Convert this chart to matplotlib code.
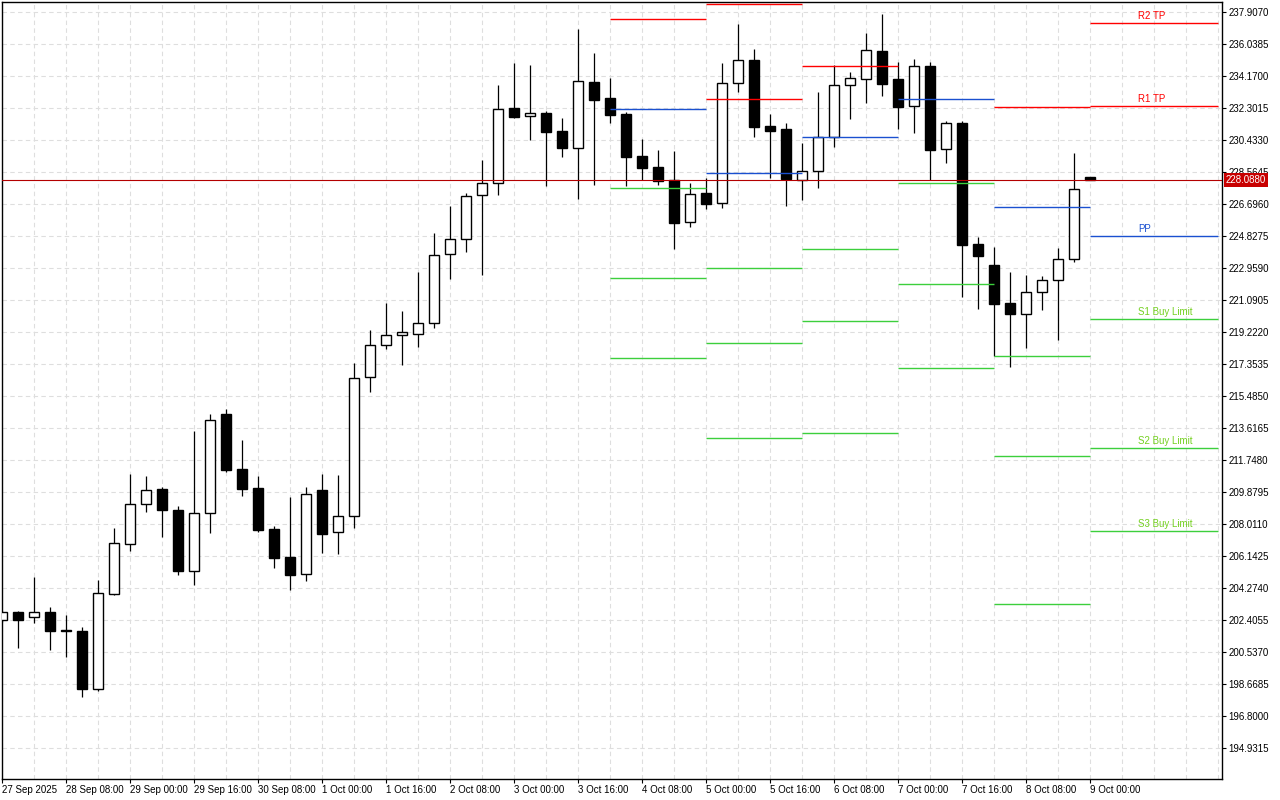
import matplotlib
matplotlib.use("Agg")
import matplotlib.pyplot as plt
import numpy as np

plt.rcParams["font.family"] = ["Liberation Sans", "DejaVu Sans"]

# H4 candles, 27 Sep 16:00 .. 9 Oct 00:00
opens = [202.370, 202.837, 202.545, 202.837, 201.786, 201.746, 198.341, 203.923, 206.808, 209.144,
         210.037, 208.793, 205.231, 208.618, 214.416, 211.205, 210.096, 207.701, 206.067, 205.057,
         209.961, 207.509, 208.443, 216.559, 218.428, 219.012, 219.070, 219.712, 223.759, 224.617,
         227.186, 227.887, 232.266, 231.834, 231.974, 230.923, 229.931, 233.785, 232.850, 231.934,
         229.481, 228.839, 228.080, 225.610, 227.321, 226.719, 233.726, 235.069, 231.233, 231.040,
         228.062, 228.588, 230.573, 233.609, 233.960, 235.612, 233.977, 232.383, 234.736, 229.872,
         231.408, 224.325, 223.099, 220.880, 220.273, 221.523, 222.223, 223.449, 228.226]
highs = [202.913, 202.896, 204.916, 203.147, 202.680, 201.962, 204.706, 207.760, 210.895, 210.779,
         210.136, 209.027, 213.424, 214.416, 214.708, 212.898, 210.779, 207.877, 209.570, 210.154,
         210.913, 210.855, 217.394, 219.304, 220.898, 220.431, 222.708, 224.985, 226.562, 227.321,
         229.248, 233.627, 234.912, 234.795, 232.091, 231.700, 236.897, 235.495, 234.036, 232.050,
         230.474, 229.832, 229.773, 227.905, 228.197, 234.912, 237.189, 235.729, 231.934, 231.408,
         230.240, 233.218, 234.777, 234.386, 236.681, 237.773, 234.970, 235.145, 234.970, 231.525,
         231.525, 224.752, 224.150, 222.690, 222.533, 222.474, 224.092, 229.656, 228.260]
lows = [202.271, 200.770, 202.195, 200.654, 200.245, 197.909, 198.225, 203.847, 206.434, 208.711,
        207.252, 205.033, 204.449, 207.485, 211.047, 209.646, 207.544, 205.442, 204.157, 204.648,
        206.317, 206.259, 207.777, 215.718, 218.229, 217.295, 218.346, 219.420, 222.317, 223.858,
        222.550, 227.221, 231.718, 230.433, 227.747, 229.440, 226.988, 227.805, 231.426, 227.747,
        228.080, 227.788, 224.068, 225.353, 226.386, 226.462, 233.236, 230.608, 228.214, 226.579,
        226.929, 227.630, 230.024, 231.659, 232.593, 233.002, 231.075, 230.842, 228.097, 229.090,
        221.266, 220.565, 217.803, 217.178, 218.288, 220.506, 218.755, 223.274, 228.060]
closes = [202.837, 202.370, 202.837, 201.763, 201.746, 198.376, 203.947, 206.866, 209.144, 209.961,
          208.828, 205.266, 208.618, 214.049, 211.164, 210.055, 207.660, 206.026, 205.033, 209.728,
          207.427, 208.443, 216.501, 218.428, 219.012, 219.187, 219.712, 223.683, 224.617, 227.128,
          227.887, 232.208, 231.776, 231.974, 230.900, 229.966, 233.843, 232.769, 231.893, 229.440,
          228.798, 228.039, 225.586, 227.245, 226.696, 233.726, 235.069, 231.192, 230.958, 228.138,
          228.588, 230.573, 233.609, 234.018, 235.653, 233.703, 232.360, 234.719, 229.849, 231.391,
          224.302, 223.660, 220.857, 220.273, 221.523, 222.223, 223.467, 227.537, 228.088]
last_price = 228.088

time_labels = ["27 Sep 2025", "28 Sep 08:00", "29 Sep 00:00", "29 Sep 16:00", "30 Sep 08:00",
               "1 Oct 00:00", "1 Oct 16:00", "2 Oct 08:00", "3 Oct 00:00", "3 Oct 16:00",
               "4 Oct 08:00", "5 Oct 00:00", "5 Oct 16:00", "6 Oct 08:00", "7 Oct 00:00",
               "7 Oct 16:00", "8 Oct 08:00", "9 Oct 00:00"]
price_ticks = [194.9315, 196.8000, 198.6685, 200.5370, 202.4055, 204.2740, 206.1425, 208.0110,
               209.8795, 211.7480, 213.6165, 215.4850, 217.3535, 219.2220, 221.0905, 222.9590,
               224.8275, 226.6960, 228.5645, 230.4330, 232.3015, 234.1700, 236.0385, 237.9070]

# daily pivot levels (bar index where each day starts / ends)
day_start = [38, 44, 50, 56, 62, 68]
day_end = [44, 50, 56, 62, 68, 76]
r2 = [None, 238.357, None, None, None, 237.230]
r1 = [237.463, 232.809, 234.719, None, 232.325, 232.383]
pp = [232.208, 228.471, 230.573, 232.792, 226.486, 224.792]
s1 = [227.595, 222.941, 224.034, 227.887, 217.785, 219.946]
s2 = [222.340, 218.544, 219.847, 221.990, 211.947, 212.413]
s3 = [217.669, 212.997, 213.289, 217.085, 203.322, 207.567]
level_names = ["R2 TP", "R1 TP", "PP", "S1 Buy Limit", "S2 Buy Limit", "S3 Buy Limit"]

RED = "#ff0000"
BLUE = "#1a50d0"
GREEN = "#3ccf3c"
LABEL_GREEN = "#74d020"

fig = plt.figure(figsize=(12.8, 8), dpi=100)
ax = fig.add_axes([2 / 1280, 21 / 800, 1220 / 1280, 777 / 800])

x = np.arange(len(opens))
o = np.array(opens)
c = np.array(closes)
up = c >= o
ax.vlines(x, lows, highs, color="black", lw=0.9, zorder=3)
ax.bar(x, np.abs(c - o), bottom=np.minimum(o, c), width=0.62,
       color=np.where(up, "white", "black"), edgecolor="black", linewidth=1.0, zorder=4)

level_sets = [(r2, RED), (r1, RED), (pp, BLUE), (s1, GREEN), (s2, GREEN), (s3, GREEN)]
for levels, col in level_sets:
    for lv, a, b in zip(levels, day_start, day_end):
        if lv is not None:
            ax.hlines(lv, a, b, color=col, lw=1.0, zorder=5)

# labels on the current day's levels
label_cols = [RED, RED, BLUE, LABEL_GREEN, LABEL_GREEN, LABEL_GREEN]
for (levels, _), name, col in zip(level_sets, level_names, label_cols):
    ax.annotate(name, (71, levels[-1]), xytext=(0, 2), textcoords="offset points",
                ha="left", va="bottom", color=col, fontsize=7, zorder=6)

ax.axhline(last_price, color="#b40000", lw=0.8, zorder=5)
ax.annotate(f"{last_price:.4f}", (1.0, last_price), xycoords=ax.get_yaxis_transform(),
            xytext=(2.5, 0), textcoords="offset points", ha="left", va="center",
            color="white", fontsize=7, annotation_clip=False, zorder=10,
            bbox=dict(boxstyle="square,pad=0.2", fc="#c80000", ec="none"))

ax.set_xlim(-0.02, 76.23)
ax.set_ylim(193.104, 238.473)

ax.set_xticks(np.arange(0, len(opens), 4))
ax.set_xticklabels(time_labels, ha="left")
ax.set_xticks(np.arange(0, 78, 2), minor=True)
ax.yaxis.tick_right()
ax.set_yticks(price_ticks)
ax.set_yticklabels([f"{t:.4f}" for t in price_ticks])
ax.tick_params(axis="both", labelsize=7, length=3, width=0.8, pad=1.5, colors="black")
ax.tick_params(axis="x", which="minor", length=0)

ax.grid(True, which="both", axis="x", color="#dedede", linestyle=(0, (4, 3)), lw=0.8)
ax.grid(True, which="major", axis="y", color="#dedede", linestyle=(0, (4, 3)), lw=0.8)
ax.set_axisbelow(True)
for sp in ax.spines.values():
    sp.set_color("black")
    sp.set_linewidth(1.0)

fig.savefig("out.png", dpi=100)
